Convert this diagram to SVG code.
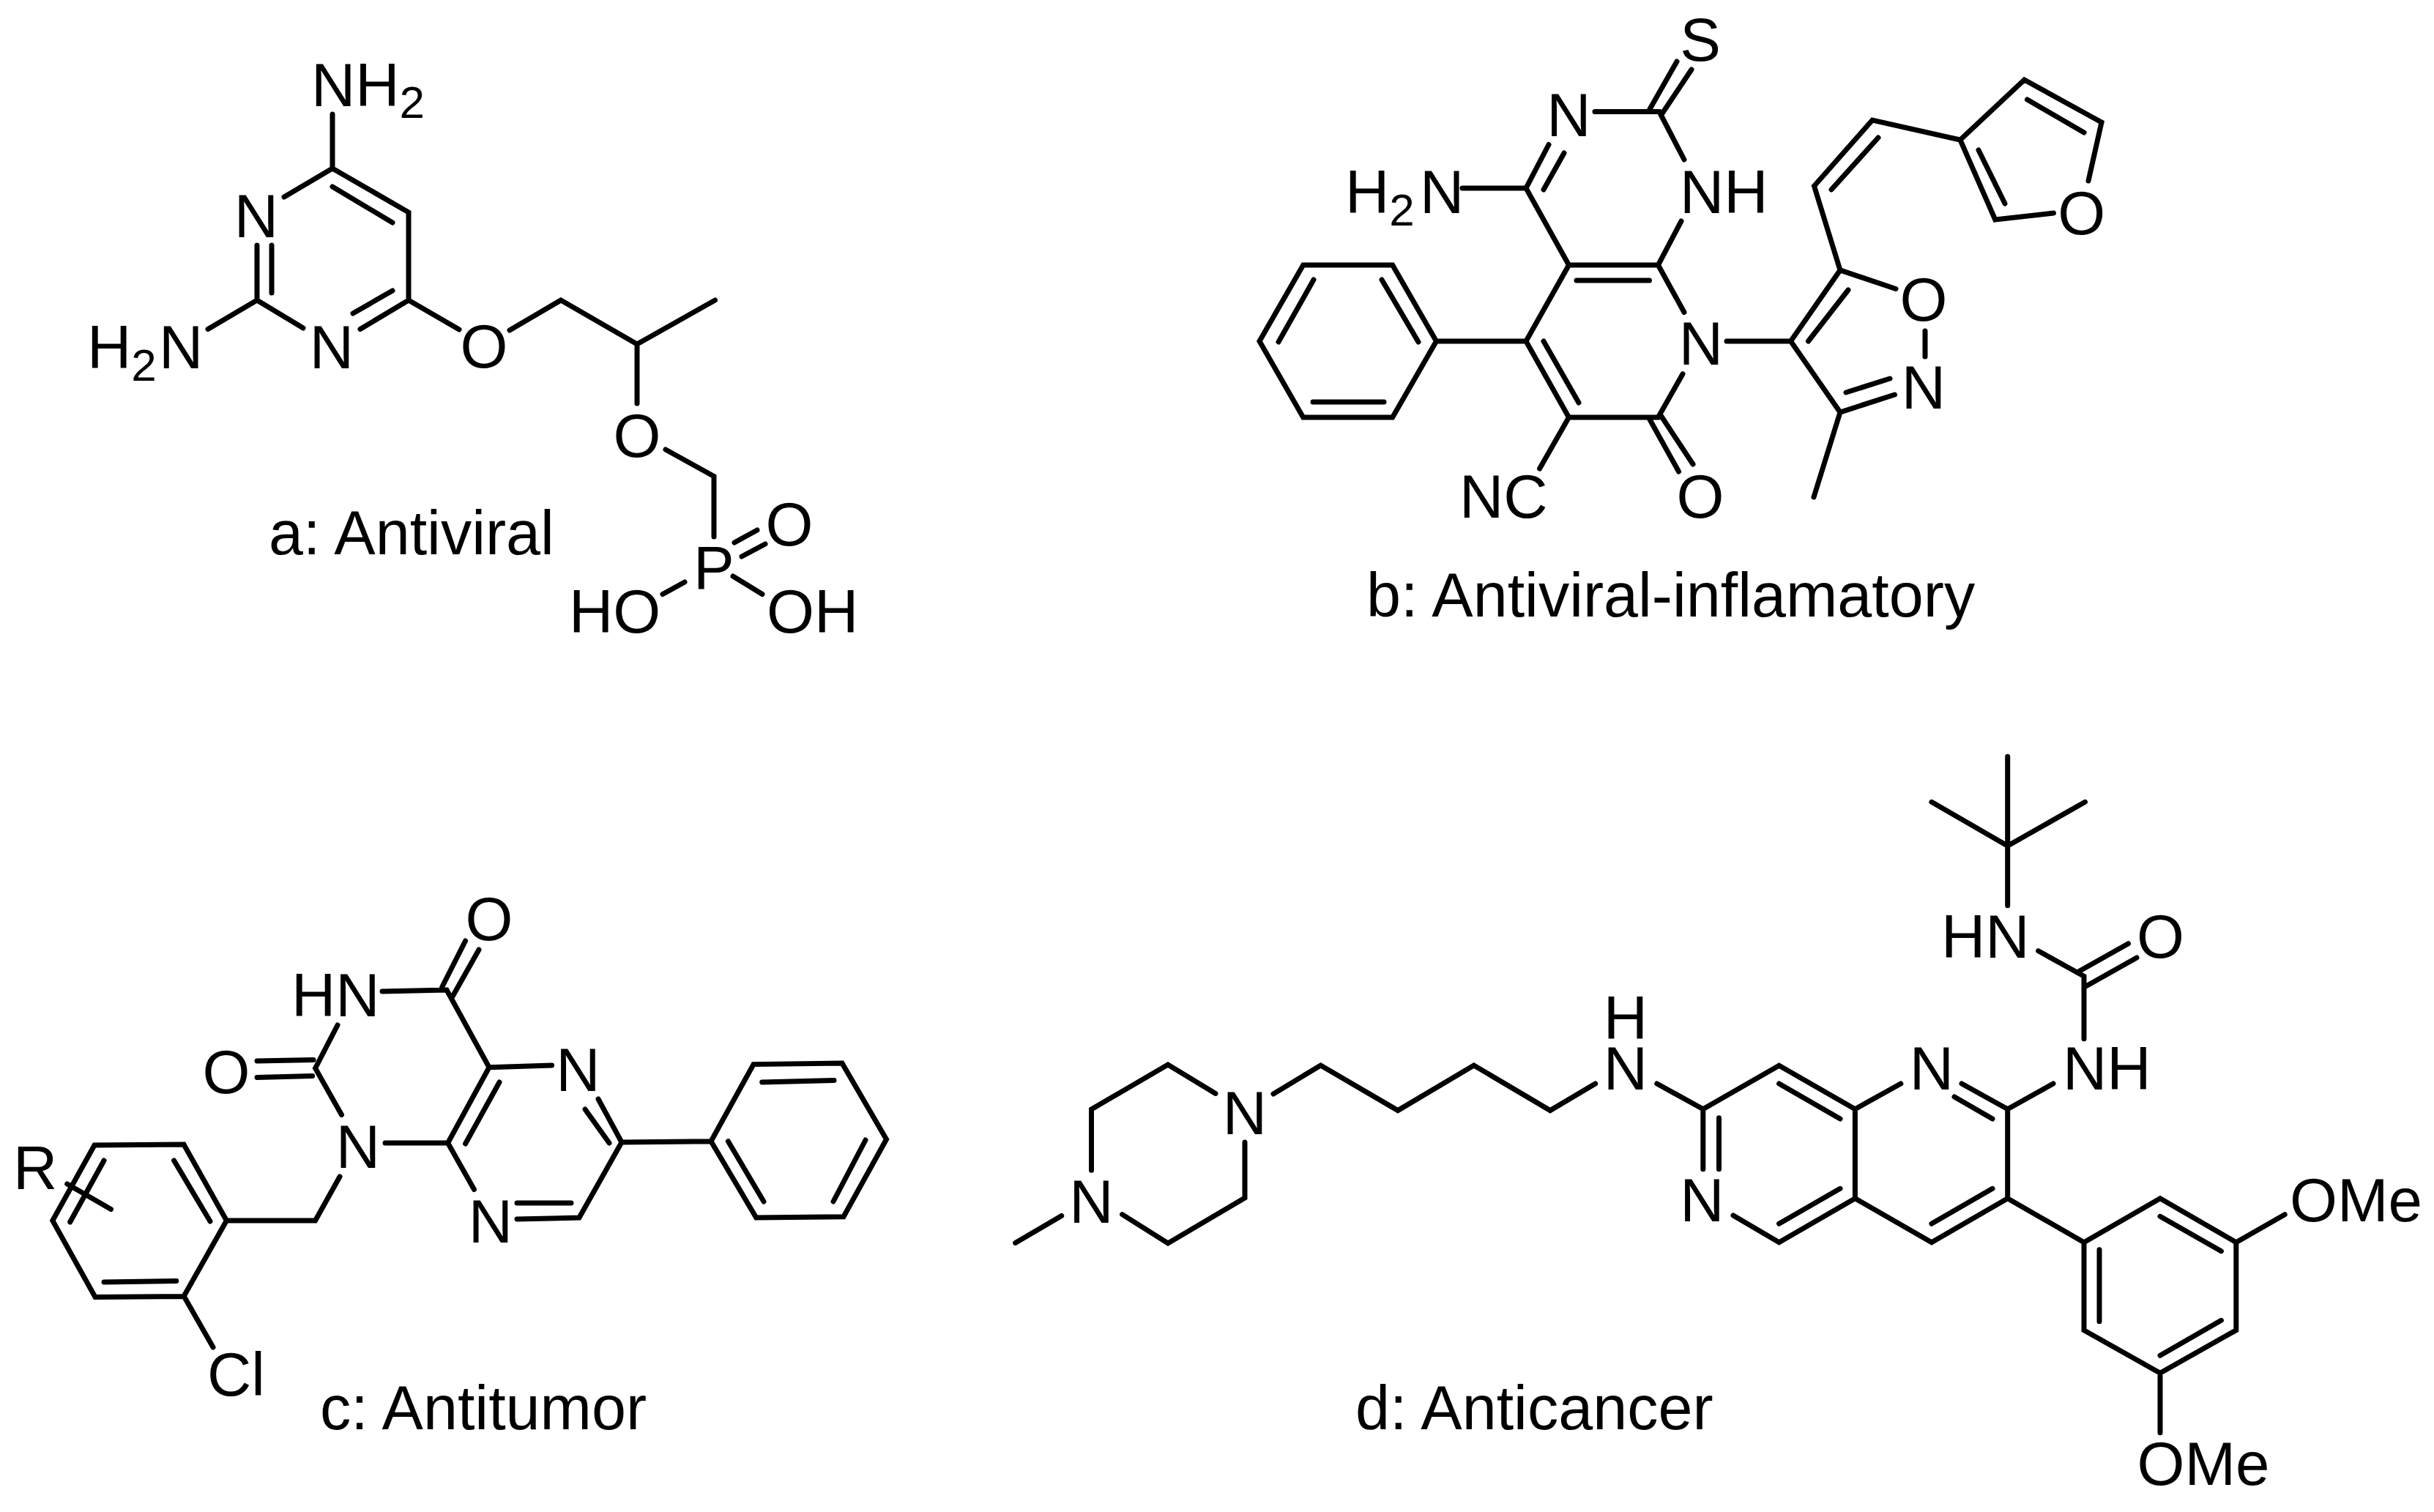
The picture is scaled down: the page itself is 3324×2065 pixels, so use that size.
<svg xmlns="http://www.w3.org/2000/svg" width="3324" height="2065" viewBox="0 0 3324 2065">
<style>
text{font-family:"Liberation Sans",Arial,sans-serif;font-size:83.5px;fill:#000}
.c{text-anchor:middle}
.s{font-size:62px}
.l{font-size:84.5px}
.b{fill:none;stroke:#000;stroke-width:7;stroke-linecap:round;stroke-linejoin:miter}
</style>
<rect width="3324" height="2065" fill="#fff"/>
<g id="molecule-a">
<g id="bonds-a"><path class="b" d="M454 156V230L388 269M454 230L558 290V410L492 449.5M454 255L536 304M536 397L482 428M351 335V410L414 448M371 335V400M351 410L284 449.5M558 410L627 450M696 451L766 410L870 470L976.5 410M870 470V551M909 614L975 650.5V733M1003 741L1034 724M1013 760L1045 743M1001 787L1041 811.5M935 795L905 811.5"/></g>
<g id="atoms-a">
<text x="425" y="145">NH<tspan class="s" dy="16">2</tspan></text>
<text class="c" x="350" y="324">N</text>
<text class="c" x="453" y="503">N</text>
<text x="119" y="503">H<tspan class="s" dy="17">2</tspan><tspan x="217" dy="-17">N</tspan></text>
<text class="c" x="661" y="502">O</text>
<text class="c" x="870" y="624">O</text>
<text class="c" x="1078" y="745">O</text>
<text x="947" y="804">P</text>
<text x="777" y="864">HO</text>
<text x="1047" y="864">OH</text>
</g>
<text id="label-a" class="l" x="367" y="757">a: Antiviral</text>
</g>
<g id="molecule-b">
<g id="bonds-b"><path class="b" d="M2252.5 150L2290 84M2270 155L2310 95M2178 152.6H2266L2300 218M2115 197.5L2084 257L2142.5 362H2264.5L2296 302M2136 209L2108 259M1997 257H2084M2153 383H2252.5M2264.5 362L2300 426.5M2142.5 362L2084 466L2142.5 570H2264.5L2298 510.7M2108 466L2156 550M2252.5 572L2292.5 644M2268.5 568L2312 634M2142.5 570L2102.6 640M2084 466H1961.5L1901.7 362H1779.7L1720 466L1779.7 570H1901.7L1961.5 466M1887 382L1937 467M1794 382L1746 467M1793 549H1890M2358 466H2445.5L2513 369L2589 394.5M2469.5 466L2524 396M2629 452V487M2445.5 466L2513 563L2587.5 539M2521 536L2581 517M2513 563L2477 679M2513 369L2477.5 254L2557 164L2677 191L2724.7 300L2804.4 291M2501 259L2565 188M2677 191L2764.5 109L2870 167L2852 247M2768.5 136L2846 181M2702 205L2738 278"/></g>
<g id="atoms-b">
<text class="c" x="2322" y="83">S</text>
<text class="c" x="2142.5" y="186">N</text>
<text x="2294" y="291">NH</text>
<text x="1837" y="291">H<tspan class="s" dy="17">2</tspan><tspan x="1939" dy="-17">N</tspan></text>
<text class="c" x="2323" y="498">N</text>
<text class="c" x="2322" y="707">O</text>
<text x="1993" y="707">NC</text>
<text class="c" x="2627" y="438">O</text>
<text class="c" x="2627" y="558">N</text>
<text class="c" x="2842.7" y="320">O</text>
</g>
<text id="label-b" class="l" x="1866" y="842">b: Antiviral-inflamatory</text>
</g>
<g id="molecule-c">
<g id="bonds-c"><path class="b" d="M603.7 1348L635.6 1285M618 1361L654 1297M522 1354L610 1352L668 1457.7L611.6 1561L647.5 1624.5M461 1400L430.6 1459L466.5 1522.5M351 1449L428 1447.5M351 1471.4L426.6 1469.4M526 1561H611.6M682 1478L635.6 1562M668 1457.7L753.6 1455M817 1501L849 1560L791 1663L706 1665M799 1515L832 1561M780 1643H706M849 1560L971 1558.7L1029 1453.6L1150 1452L1210.5 1556L1152 1661.7L1032.7 1663L971 1558.7M1040.7 1478L1139 1475.5M1182 1557L1138 1641M994.4 1558.7L1043 1641M464 1607L430.6 1667H309.4L251 1563L129 1564L71.8 1667L130 1771.4L251 1770.4L309.4 1667M237.6 1585L287 1668M142 1585L95.7 1669M142 1751L240.8 1749.5M91.7 1617L151.5 1651.5M251 1770L291 1840"/></g>
<g id="atoms-c">
<text class="c" x="668" y="1284">O</text>
<text x="398" y="1388">HN</text>
<text class="c" x="309" y="1493">O</text>
<text class="c" x="489" y="1595">N</text>
<text class="c" x="789.5" y="1490">N</text>
<text class="c" x="670" y="1697">N</text>
<text x="18" y="1624">R</text>
<text x="283" y="1906">Cl</text>
</g>
<text id="label-c" class="l" x="437" y="1952">c: Antitumor</text>
</g>
<g id="molecule-d">
<g id="bonds-d"><path class="b" d="M1386.6 1697.4L1449.7 1660.4M1490.5 1598.3V1515L1595 1454L1660 1493.4M1700 1560V1636L1595 1698L1532.6 1658.6M1739 1494L1803.6 1455L1909 1516.6L2012.8 1455L2117 1516.6L2178.7 1480M2262.8 1480L2325.8 1514.7V1596.7M2347.5 1526.7V1596.7M2367 1660L2429.6 1696.7L2533.4 1636.7V1514.7L2429.6 1455.3L2325.8 1514.7M2429.6 1671.3L2513 1623.3M2513 1528L2429.6 1480M2533.4 1514.7L2595.8 1480M2679 1480L2741.7 1514.7V1636.7L2637.9 1696.7L2533.4 1636.7M2669 1498L2721 1528M2741.7 1514.7L2804 1480M2721 1623.3L2637.9 1671.3M2741.7 1636.7L2846 1696.7L2950 1636.7L3053.8 1696.7V1816.7L2950 1875.3L2846 1816.7V1696.7M2950 1661.3L3033.4 1708.7M2867 1706.7V1804.7M2950 1851.3L3033.4 1803.3M3053.8 1696.7L3120.2 1658.7M2950 1875.3V1956.7M2846 1418.7V1333.3L2783.7 1298.7M2836.7 1328L2906.5 1288.7M2849 1346.7L2918 1308M2741.7 1236.7V1155.3V1033.3M2741.7 1155.3L2637.9 1095.3M2741.7 1155.3L2847.5 1095.3"/></g>
<g id="atoms-d">
<text class="c" x="1490.5" y="1670">N</text>
<text class="c" x="1700" y="1549">N</text>
<text class="c" x="2220" y="1488">N</text>
<text class="c" x="2220" y="1419">H</text>
<text class="c" x="2324.5" y="1668">N</text>
<text class="c" x="2638" y="1488">N</text>
<text x="2817" y="1488">NH</text>
<text x="3127" y="1668">OMe</text>
<text x="2918.5" y="2028">OMe</text>
<text class="c" x="2950.6" y="1308">O</text>
<text x="2651" y="1308">HN</text>
</g>
<text id="label-d" class="l" x="1851" y="1952">d: Anticancer</text>
</g>
</svg>
